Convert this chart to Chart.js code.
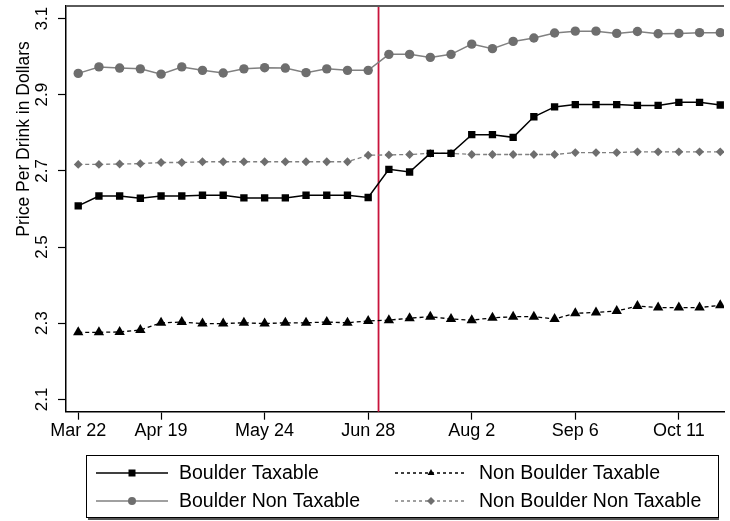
<!DOCTYPE html>
<html>
<head>
<meta charset="utf-8">
<script src="https://cdn.jsdelivr.net/npm/chart.js@4.4.0/dist/chart.umd.min.js"></script>
<style>
  html, body { margin: 0; padding: 0; background: #fff; overflow: hidden; }
  #wrap { width: 730px; height: 521px; }
</style>
</head>
<body>
<div id="wrap"><canvas id="chart1" width="730" height="521"></canvas></div>
<script>
// ============== Data (weekly)
const weekDates = ['Mar 22', 'Mar 29', 'Apr 5', 'Apr 12', 'Apr 19', 'Apr 26', 'May 3', 'May 10',
  'May 17', 'May 24', 'May 31', 'Jun 7', 'Jun 14', 'Jun 21', 'Jun 28', 'Jul 5',
  'Jul 12', 'Jul 19', 'Jul 26', 'Aug 2', 'Aug 9', 'Aug 16', 'Aug 23', 'Aug 30',
  'Sep 6', 'Sep 13', 'Sep 20', 'Sep 27', 'Oct 4', 'Oct 11', 'Oct 18', 'Oct 25'];
const tickWeeks = [0, 4, 9, 14, 19, 24, 29];
const yTicks = [2.1, 2.3, 2.5, 2.7, 2.9, 3.1];
const taxStart = 14.5;

const boulderTax = [2.608, 2.634, 2.634, 2.628, 2.634, 2.634, 2.636, 2.636, 2.629, 2.629, 2.629, 2.636, 2.636, 2.636, 2.630, 2.704,
  2.697, 2.746, 2.746, 2.795, 2.795, 2.788, 2.842, 2.868, 2.874, 2.874, 2.874, 2.872, 2.872, 2.880, 2.880, 2.873];
const boulderNonTax = [2.956, 2.973, 2.970, 2.968, 2.954, 2.973, 2.964, 2.957, 2.968, 2.971, 2.970, 2.958, 2.968, 2.964, 2.964, 3.006,
  3.006, 2.998, 3.006, 3.033, 3.021, 3.040, 3.049, 3.062, 3.067, 3.067, 3.061, 3.066, 3.060, 3.061, 3.063, 3.063];
const nonBoulderTax = [2.276, 2.276, 2.277, 2.282, 2.301, 2.303, 2.299, 2.299, 2.301, 2.299, 2.301, 2.301, 2.303, 2.301, 2.306, 2.308,
  2.313, 2.317, 2.311, 2.308, 2.314, 2.317, 2.317, 2.311, 2.326, 2.328, 2.332, 2.345, 2.341, 2.341, 2.341, 2.347];
const nonBoulderNonTax = [2.717, 2.717, 2.718, 2.719, 2.722, 2.722, 2.724, 2.724, 2.724, 2.724, 2.724, 2.724, 2.724, 2.724, 2.741, 2.742,
  2.743, 2.746, 2.746, 2.743, 2.743, 2.743, 2.743, 2.743, 2.748, 2.748, 2.748, 2.750, 2.750, 2.750, 2.750, 2.750];

const FONT = '"Liberation Sans", Arial, sans-serif';
const GRAY = '#6e6e6e';

const toPoints = (list) => list.map((v, i) => ({ x: i, y: v }));

const legendItems = [
  { label: 'Boulder Taxable', color: '#000', line: '#000', dash: [], style: 'rect', col: 0, row: 0 },
  { label: 'Boulder Non Taxable', color: GRAY, line: '#808080', dash: [], style: 'circle', col: 0, row: 1 },
  { label: 'Non Boulder Taxable', color: '#000', line: '#000', dash: [3, 3], style: 'triangle', col: 1, row: 0 },
  { label: 'Non Boulder Non Taxable', color: GRAY, line: '#808080', dash: [3, 3], style: 'diamond', col: 1, row: 1 },
];

const drawMarker = (ctx, style, x, y, r, color) => {
  ctx.fillStyle = color;
  ctx.beginPath();
  if (style === 'rect') {
    ctx.rect(x - r, y - r, 2 * r, 2 * r);
  } else if (style === 'circle') {
    ctx.arc(x, y, r, 0, Math.PI * 2);
  } else if (style === 'triangle') {
    ctx.moveTo(x, y - r);
    ctx.lineTo(x + r * 0.866, y + r * 0.5);
    ctx.lineTo(x - r * 0.866, y + r * 0.5);
  } else {
    ctx.moveTo(x, y - r);
    ctx.lineTo(x + r, y);
    ctx.lineTo(x, y + r);
    ctx.lineTo(x - r, y);
  }
  ctx.closePath();
  ctx.fill();
}

const decor = {
  id: 'decor',
  beforeDatasetsDraw(chart) {
    const { ctx, chartArea, scales } = chart;
    const x = scales.x.getPixelForValue(taxStart);
    ctx.save();
    ctx.strokeStyle = '#c8143c';
    ctx.lineWidth = 1.8;
    ctx.beginPath();
    ctx.moveTo(x, chartArea.top);
    ctx.lineTo(x, chartArea.bottom);
    ctx.stroke();
    ctx.restore();
  },
  afterDraw(chart) {
    const { ctx, chartArea, scales } = chart;
    ctx.save();
    // top frame line
    ctx.strokeStyle = '#5a5a5a';
    ctx.lineWidth = 2;
    ctx.beginPath();
    ctx.moveTo(chartArea.left, chartArea.top);
    ctx.lineTo(chartArea.right, chartArea.top);
    ctx.stroke();

    // y tick labels, rotated
    ctx.fillStyle = '#000';
    ctx.font = '17px ' + FONT;
    ctx.textAlign = 'center';
    ctx.textBaseline = 'alphabetic';
    yTicks.forEach(v => {
      const py = scales.y.getPixelForValue(v);
      ctx.save();
      ctx.translate(47, py);
      ctx.rotate(-Math.PI / 2);
      ctx.fillText(v.toFixed(1), 0, 0);
      ctx.restore();
    });

    // y title
    ctx.font = '17.5px ' + FONT;
    ctx.save();
    ctx.translate(29, 139);
    ctx.rotate(-Math.PI / 2);
    ctx.fillText('Price Per Drink in Dollars', 0, 0);
    ctx.restore();

    // legend box
    ctx.fillStyle = '#555';
    ctx.fillRect(88, 517, 631, 3);
    ctx.fillStyle = '#fff';
    ctx.fillRect(86, 455, 632, 62);
    ctx.strokeStyle = '#000';
    ctx.lineWidth = 1;
    ctx.strokeRect(86.5, 455.5, 632, 62);

    const cols = [{ x0: 96, x1: 168, mx: 132, tx: 179 }, { x0: 395, x1: 466, mx: 431, tx: 479 }];
    const rows = [473, 501];
    ctx.font = '19.5px ' + FONT;
    legendItems.forEach(item => {
      const c = cols[item.col];
      const y = rows[item.row];
      ctx.strokeStyle = item.line;
      ctx.lineWidth = 1.5;
      ctx.setLineDash(item.dash);
      ctx.beginPath();
      ctx.moveTo(c.x0, y);
      ctx.lineTo(c.x1, y);
      ctx.stroke();
      ctx.setLineDash([]);
      const r = item.style === 'rect' ? 3.5 : 4;
      drawMarker(ctx, item.style, c.mx, y, r, item.color);
      ctx.fillStyle = '#000';
      ctx.textAlign = 'left';
      ctx.textBaseline = 'middle';
      ctx.fillText(item.label, c.tx, y + 1);
    });
    ctx.restore();
  }
};

// ============== Chart
document.addEventListener('DOMContentLoaded', () => {
  createChart();
});

const createChart = () => {
  const ctx = document.getElementById('chart1').getContext('2d');

  const data = {
    datasets: [{
      label: 'Boulder Taxable',
      data: toPoints(boulderTax),
      borderColor: '#000',
      backgroundColor: '#000',
      borderWidth: 1.5,
      pointStyle: 'rect',
      pointRadius: 5.2,
      pointBorderWidth: 0,
    }, {
      label: 'Boulder Non Taxable',
      data: toPoints(boulderNonTax),
      borderColor: '#808080',
      backgroundColor: GRAY,
      borderWidth: 1.5,
      pointStyle: 'circle',
      pointRadius: 4.7,
      pointBorderWidth: 0,
    }, {
      label: 'Non Boulder Taxable',
      data: toPoints(nonBoulderTax),
      borderColor: '#000',
      backgroundColor: '#000',
      borderWidth: 1.3,
      borderDash: [4, 3],
      pointStyle: 'triangle',
      pointRadius: 6,
      pointBorderWidth: 0,
    }, {
      label: 'Non Boulder Non Taxable',
      data: toPoints(nonBoulderNonTax),
      borderColor: '#808080',
      backgroundColor: GRAY,
      borderWidth: 1.3,
      borderDash: [4, 3],
      pointStyle: 'rectRot',
      pointRadius: 4.4,
      pointBorderWidth: 0,
    }]
  };

  const config = {
    type: 'line',
    data: data,
    options: {
      responsive: false,
      animation: false,
      layout: { padding: { top: 5.7, right: 0, bottom: 0, left: 0 } },
      plugins: {
        legend: { display: false },
        tooltip: { enabled: false },
      },
      scales: {
        x: {
          type: 'linear',
          min: -0.59,
          max: 31.18,
          afterBuildTicks: s => { s.ticks = tickWeeks.map(v => ({ value: v })); },
          afterFit: s => { s.height = 109.3; },
          grid: { display: true, drawOnChartArea: false, drawTicks: true, tickLength: 8, color: '#000', tickWidth: 1.2 },
          border: { display: true, color: '#000', width: 1.5 },
          ticks: {
            autoSkip: false, maxRotation: 0, minRotation: 0, padding: 1, color: '#000',
            font: { family: FONT, size: 18 },
            callback: v => weekDates[v],
          },
        },
        y: {
          min: 2.0675,
          max: 3.133,
          afterBuildTicks: s => { s.ticks = yTicks.map(v => ({ value: v })); },
          afterFit: s => { s.width = 66; },
          grid: { display: true, drawOnChartArea: false, drawTicks: true, tickLength: 8, color: '#000', tickWidth: 1.2 },
          border: { display: true, color: '#000', width: 1.5 },
          ticks: { display: false },
        },
      },
    },
    plugins: [decor],
  };

  const newChart = new Chart(ctx, config);
}
</script>
</body>
</html>
